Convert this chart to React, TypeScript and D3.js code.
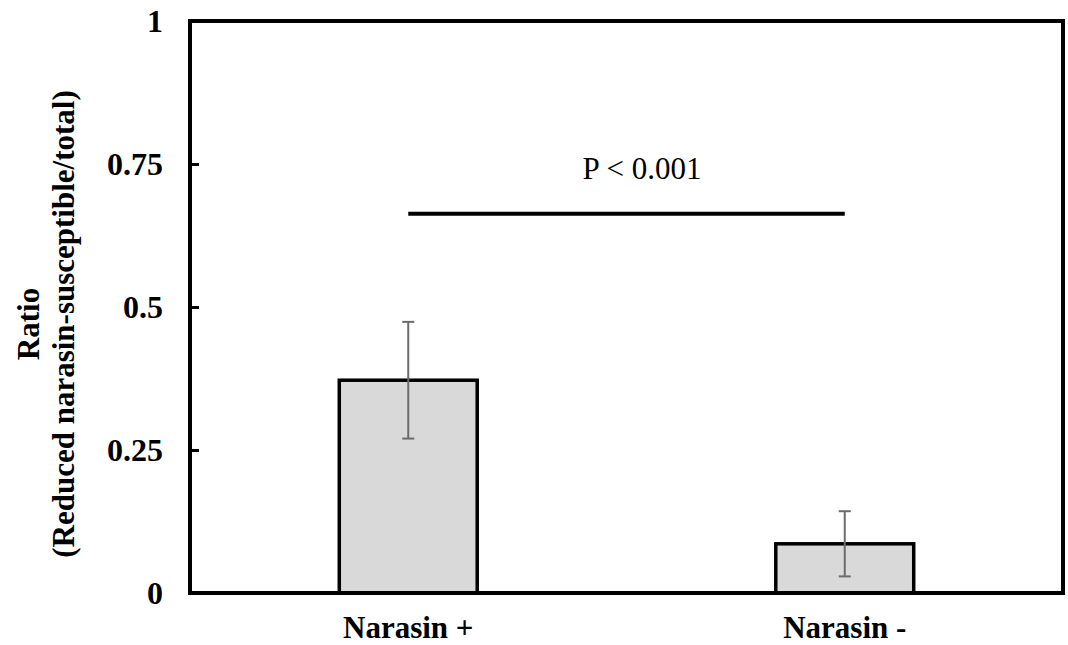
import React, { useEffect, useRef } from "react";
import * as d3 from "d3";

// chart data
const categories = ["Narasin +", "Narasin -"];
const ratios = [0.372, 0.086];
const errors = [0.102, 0.057];
const yTicks = [0, 0.25, 0.5, 0.75, 1];
const pLabel = "P < 0.001";
const pLineValue = 0.663;

const FONT = "'Times New Roman', 'Liberation Serif', serif";

export default function App() {
  const ref = useRef<SVGSVGElement | null>(null);

  useEffect(() => {
    document.body.style.margin = "0";
    const svg = d3.select(ref.current);
    svg.selectAll("*").remove(); //clear previous render

    const width = 1068;
    const height = 645;
    const margin = { top: 21, right: 5, bottom: 52, left: 190 };
    const x0 = margin.left;
    const x1 = width - margin.right;
    const y0 = height - margin.bottom;
    const y1 = margin.top;

    const xScale = d3.scaleBand<string>()
      .domain(categories)
      .range([x0, x1])
      .paddingInner(0.684)
      .paddingOuter(0.342);

    const yScale = d3.scaleLinear().domain([0, 1]).range([y0, y1]);

    svg.append("rect")
      .attr("width", width)
      .attr("height", height)
      .attr("fill", "#fff");

    // bars
    svg.selectAll("rect.bar")
      .data(categories)
      .join("rect")
      .attr("class", "bar")
      .attr("x", d => xScale(d)!)
      .attr("width", xScale.bandwidth())
      .attr("y", (d, i) => yScale(ratios[i]))
      .attr("height", (d, i) => y0 - yScale(ratios[i]))
      .attr("fill", "#d9d9d9")
      .attr("stroke", "#000")
      .attr("stroke-width", 3.5);

    // error bars
    const eg = svg.append("g").attr("stroke", "#6b6b6b").attr("stroke-width", 2);
    categories.forEach((c, i) => {
      const cx = xScale(c)! + xScale.bandwidth() / 2;
      const top = yScale(ratios[i] + errors[i]);
      const bot = yScale(ratios[i] - errors[i]);
      eg.append("line").attr("x1", cx).attr("x2", cx).attr("y1", top).attr("y2", bot);
      eg.append("line").attr("x1", cx - 6).attr("x2", cx + 6).attr("y1", top).attr("y2", top);
      eg.append("line").attr("x1", cx - 6).attr("x2", cx + 6).attr("y1", bot).attr("y2", bot);
    });

    // frame
    svg.append("rect")
      .attr("x", x0)
      .attr("y", y1)
      .attr("width", x1 - x0)
      .attr("height", y0 - y1)
      .attr("fill", "none")
      .attr("stroke", "#000")
      .attr("stroke-width", 4);

    // y axis ticks (inside)
    const yAxis = d3.axisRight(yScale)
      .tickValues(yTicks)
      .tickSize(9)
      .tickFormat(() => "");
    const ya = svg.append("g")
      .attr("transform", `translate(${x0},0)`)
      .call(yAxis);
    ya.select(".domain").remove();
    ya.selectAll("line").attr("stroke", "#000").attr("stroke-width", 3);

    // y tick labels
    svg.selectAll("text.ytick")
      .data(yTicks)
      .join("text")
      .attr("class", "ytick")
      .attr("x", x0 - 27)
      .attr("y", d => yScale(d))
      .attr("dy", "0.35em")
      .attr("text-anchor", "end")
      .attr("font-family", FONT)
      .attr("font-weight", "bold")
      .attr("font-size", 32)
      .text(d => String(d));

    // x labels
    svg.selectAll("text.xlab")
      .data(categories)
      .join("text")
      .attr("class", "xlab")
      .attr("x", d => xScale(d)! + xScale.bandwidth() / 2)
      .attr("y", 638)
      .attr("text-anchor", "middle")
      .attr("font-family", FONT)
      .attr("font-weight", "bold")
      .attr("font-size", 31)
      .text(d => d);

    // y title
    const yt = svg.append("text")
      .attr("transform", `translate(0,${(y0 + y1) / 2 + 17}) rotate(-90)`)
      .attr("text-anchor", "middle")
      .attr("font-family", FONT)
      .attr("font-weight", "bold")
      .attr("font-size", 31);
    yt.append("tspan").attr("x", 0).attr("y", 39).text("Ratio");
    yt.append("tspan").attr("x", 0).attr("y", 74).text("(Reduced narasin-susceptible/total)");

    // significance line
    const c1 = xScale(categories[0])! + xScale.bandwidth() / 2;
    const c2 = xScale(categories[1])! + xScale.bandwidth() / 2;
    svg.append("line")
      .attr("x1", c1)
      .attr("x2", c2)
      .attr("y1", yScale(pLineValue))
      .attr("y2", yScale(pLineValue))
      .attr("stroke", "#000")
      .attr("stroke-width", 4);

    svg.append("text")
      .attr("x", 642)
      .attr("y", 179)
      .attr("text-anchor", "middle")
      .attr("font-family", FONT)
      .attr("font-size", 31)
      .text(pLabel);
  }, []);

  return <svg ref={ref} width={1068} height={645} style={{ display: "block" }} />;
}
